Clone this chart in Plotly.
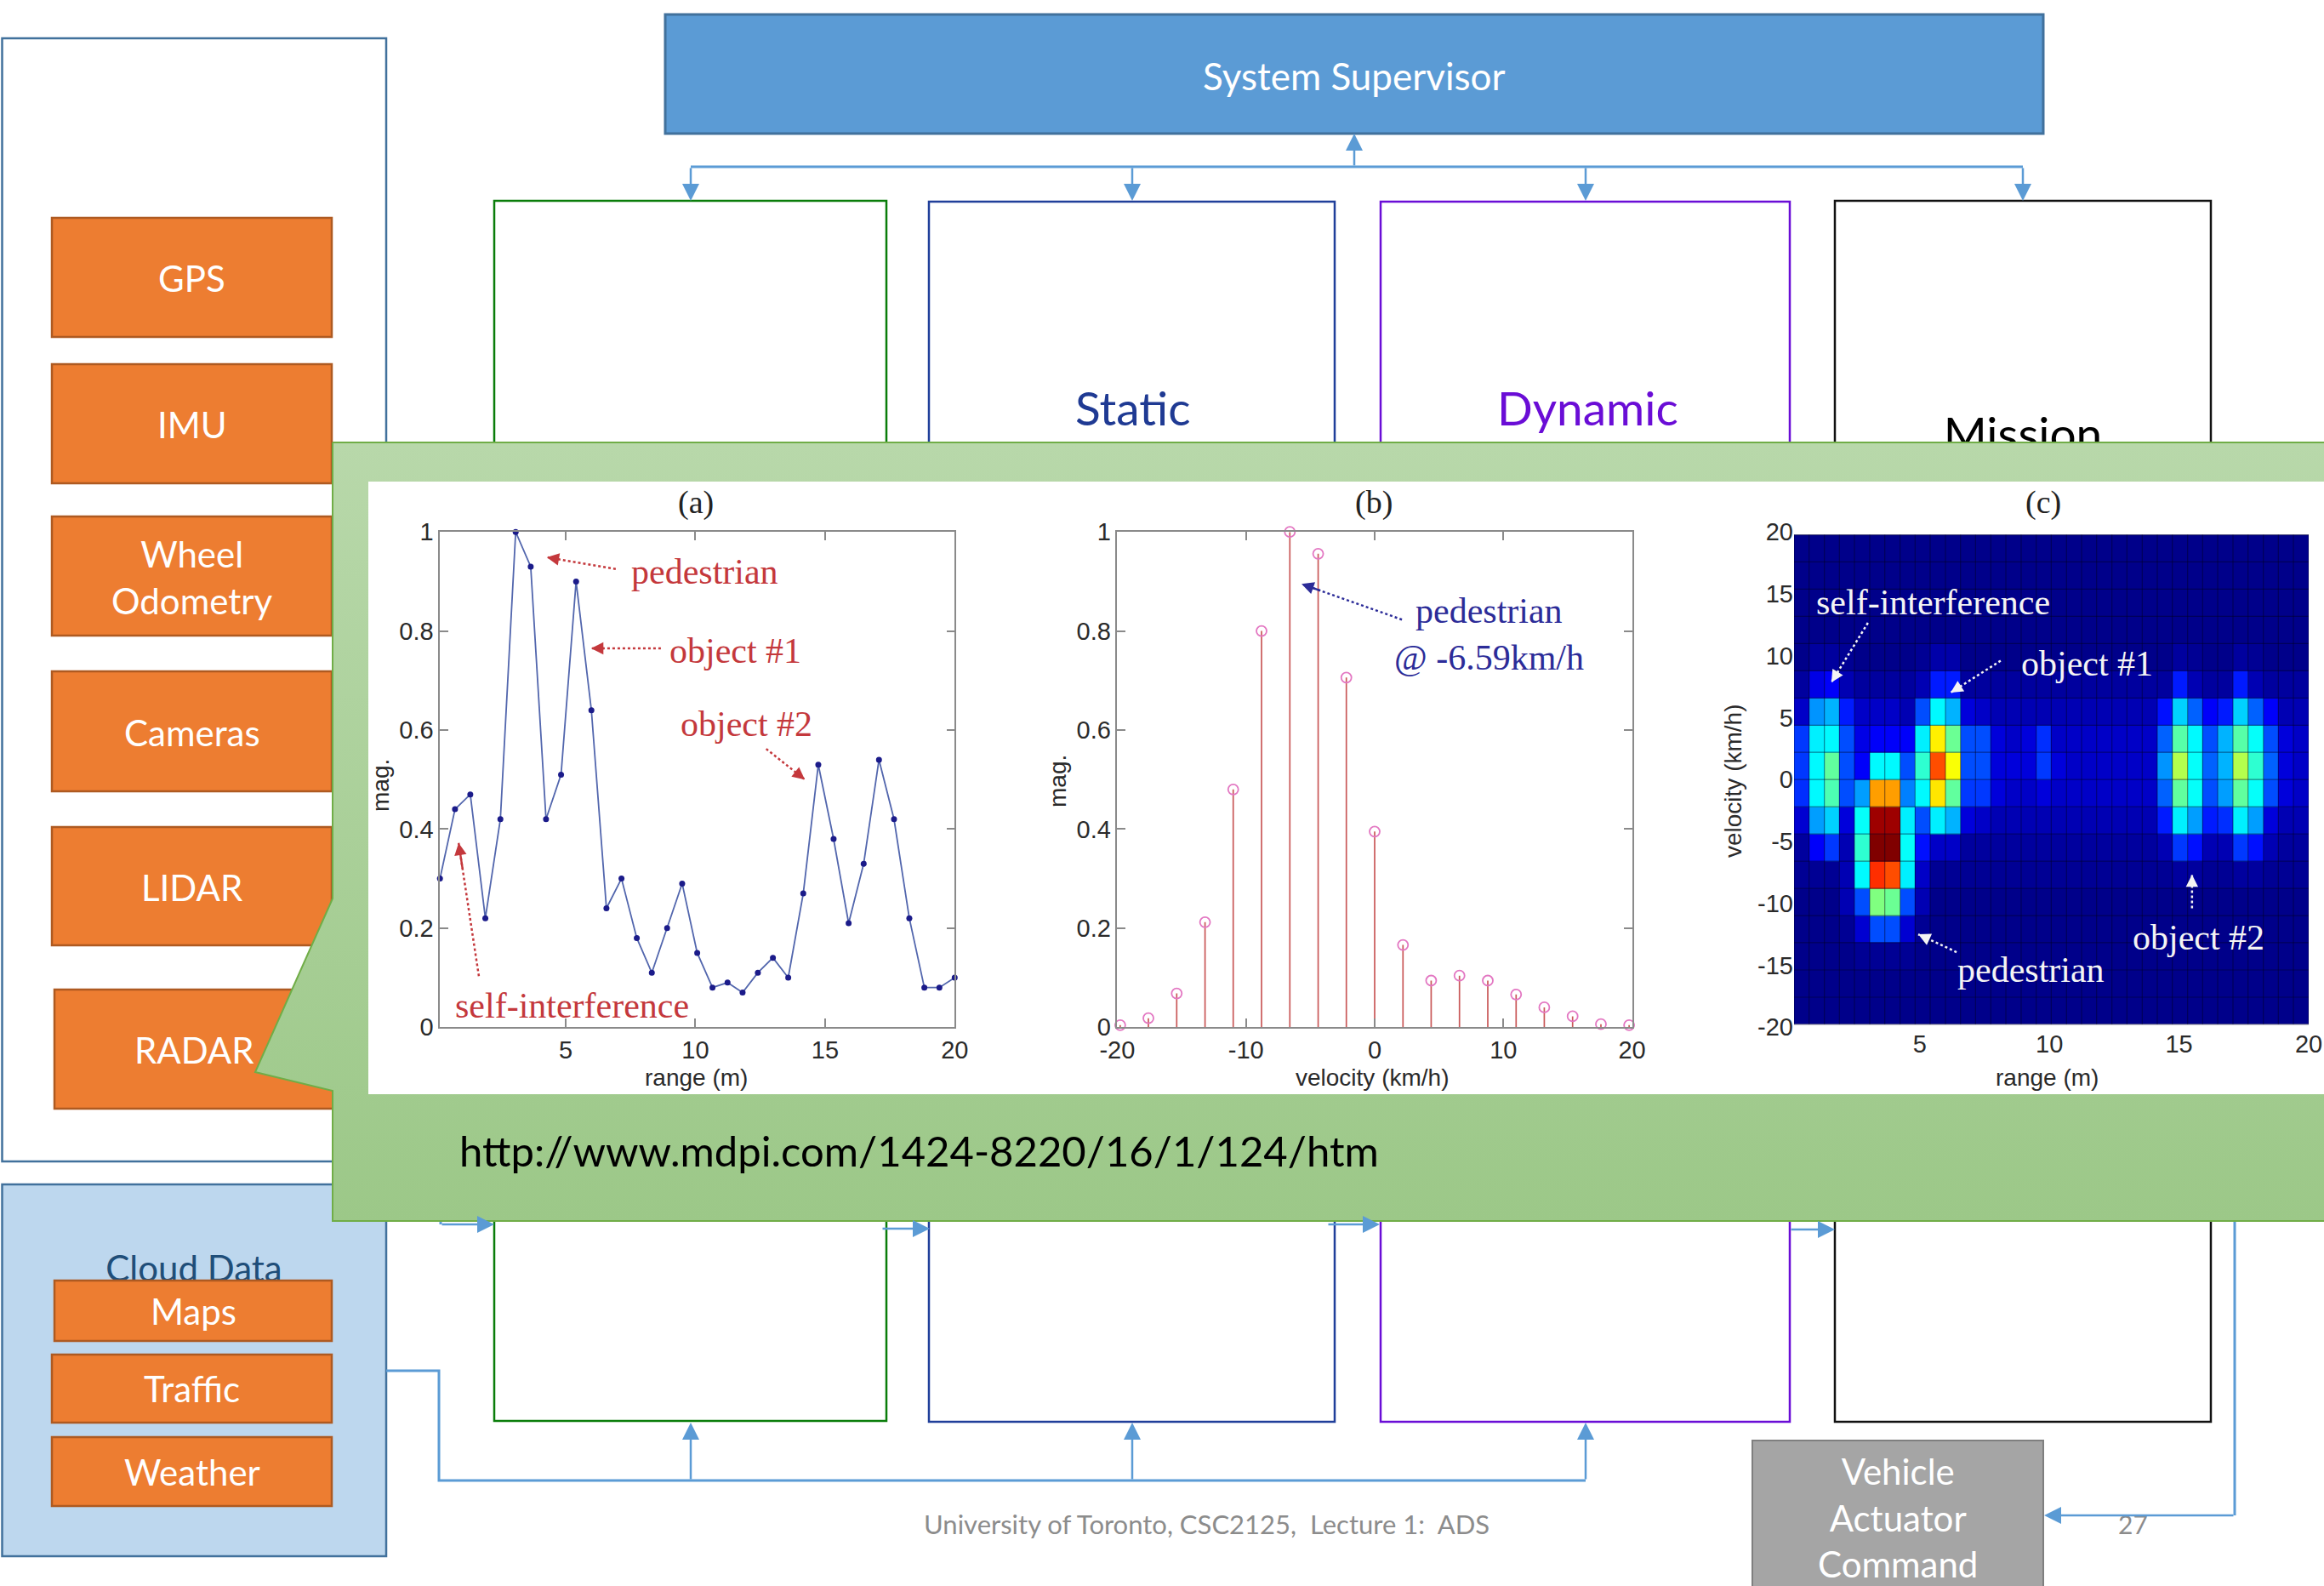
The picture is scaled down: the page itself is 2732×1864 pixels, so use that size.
import plotly.graph_objects as go

W, H = 2732, 1864

# ---------------- data ----------------
range_m = [0.15, 0.73, 1.32, 1.90, 2.48, 3.07, 3.65, 4.24, 4.82, 5.40, 5.99, 6.57,
           7.15, 7.74, 8.32, 8.91, 9.49, 10.07, 10.66, 11.24, 11.82, 12.41, 12.99,
           13.58, 14.16, 14.74, 15.33, 15.91, 16.49, 17.08, 17.66, 18.25, 18.83,
           19.41, 20.00]
range_mag = [0.30, 0.44, 0.47, 0.22, 0.42, 1.00, 0.93, 0.42, 0.51, 0.90, 0.64, 0.24,
             0.30, 0.18, 0.11, 0.20, 0.29, 0.15, 0.08, 0.09, 0.07, 0.11, 0.14, 0.10,
             0.27, 0.53, 0.38, 0.21, 0.33, 0.54, 0.42, 0.22, 0.08, 0.08, 0.10]

velocity_kmh = [-19.77, -17.58, -15.38, -13.18, -10.99, -8.79, -6.59, -4.39, -2.20,
                0.00, 2.20, 4.39, 6.59, 8.79, 10.99, 13.18, 15.38, 17.58, 19.77]
velocity_mag = [0.004, 0.018, 0.068, 0.212, 0.48, 0.80, 1.00, 0.956, 0.706, 0.395,
                0.166, 0.094, 0.104, 0.094, 0.066, 0.040, 0.022, 0.006, 0.004]

# range-doppler map (%), rows bottom (-20 km/h) -> top (+20 km/h), 34 range cells
rd_map = [
    [1,1,1,1,1,1,1,1,1,1, 1,1,1,1,1,1,1,1,1,1, 1,1,1,1,1,1,1,1,1,1, 1,1,1,1],
    [1,1,1,1,1,1,1,1,1,1, 1,1,1,1,1,1,1,1,1,1, 1,1,1,1,1,1,1,1,1,1, 1,1,1,1],
    [1,1,1,1,2,2,2,2,1,1, 1,1,1,1,1,1,1,1,1,1, 1,1,1,1,1,1,1,1,1,1, 1,1,1,1],
    [1,1,1,2,8,20,20,8,2,1, 1,1,1,1,1,1,1,1,1,1, 1,1,1,1,1,1,1,1,1,1, 1,1,1,1],
    [1,1,1,5,20,50,48,20,5,1, 1,1,1,1,1,1,1,1,1,1, 1,1,1,1,1,1,1,1,1,1, 1,1,1,1],
    [2,2,2,5,37,83,80,36,7,2, 2,2,2,2,2,2,2,2,2,2, 2,2,2,2,2,3,3,2,2,3, 3,2,2,2],
    [3,12,18,5,42,100,100,38,14,7, 7,3,3,3,3,3,3,3,3,3, 3,3,3,3,5,18,14,5,5,18, 14,5,3,3],
    [8,28,33,9,38,97,97,36,20,36, 30,9,7,5,5,5,5,5,5,5, 5,5,5,5,15,36,28,15,17,36, 28,9,5,5],
    [17,37,45,20,28,72,72,25,37,65, 47,18,18,9,7,7,9,7,7,7, 7,7,7,7,22,47,38,20,28,47, 38,20,9,7],
    [18,37,47,20,12,37,37,20,42,80, 62,20,20,9,9,9,18,9,7,7, 7,7,7,7,27,55,38,22,30,55, 42,22,9,7],
    [18,36,37,20,10,12,12,12,36,64, 48,20,20,9,7,9,17,7,7,7, 7,7,7,7,22,46,37,20,30,46, 38,20,9,7],
    [7,27,30,15,7,7,7,5,20,37, 30,9,7,5,5,5,5,5,5,5, 5,5,5,5,14,33,22,12,15,33, 22,12,5,5],
    [3,10,12,5,3,3,3,3,5,15, 15,3,3,3,3,3,3,3,3,3, 3,3,3,3,3,15,5,3,3,15, 5,3,3,3],
    [1,3,3,2,1,1,1,1,2,4, 4,1,1,1,1,1,1,1,1,1, 1,1,1,1,1,3,2,1,1,3, 2,1,1,1],
    [1,1,1,1,1,1,1,1,1,1, 1,1,1,1,1,1,1,1,1,1, 1,1,1,1,1,1,1,1,1,1, 1,1,1,1],
    [1,1,1,1,1,1,1,1,1,1, 1,1,1,1,1,1,1,1,1,1, 1,1,1,1,1,1,1,1,1,1, 1,1,1,1],
    [1,1,1,1,1,1,1,1,1,1, 1,1,1,1,1,1,1,1,1,1, 1,1,1,1,1,1,1,1,1,1, 1,1,1,1],
    [1,1,1,1,1,1,1,1,1,1, 1,1,1,1,1,1,1,1,1,1, 1,1,1,1,1,1,1,1,1,1, 1,1,1,1],
]

mag_ticks = [0, 0.2, 0.4, 0.6, 0.8, 1]
mag_ticktext = ["0", "0.2", "0.4", "0.6", "0.8", "1"]
range_ticks = [5, 10, 15, 20]
vel_ticks_b = [-20, -10, 0, 10, 20]
vel_ticktext_b = ["-20", "-10", "0", "10", "20"]
vel_ticks_c = [-20, -15, -10, -5, 0, 5, 10, 15, 20]
vel_ticktext_c = ["-20", "-15", "-10", "-5", "0", "5", "10", "15", "20"]

sensors = ["GPS", "IMU", "Wheel<br>Odometry", "Cameras", "LIDAR", "RADAR"]
cloud_items = ["Maps", "Traffic", "Weather"]

SLIDE_FONT = "Lato"
SANS = "Liberation Sans"
SERIF = "Liberation Serif"
BLUE_ARROW = "#5b9bd5"

fig = go.Figure()


# ---------------- helpers (base layer in pixel units) ----------------
def rect(x0, y0, x1, y1, fill, line, lw=2.5, layer="below"):
    fig.add_shape(type="rect", xref="x", yref="y", x0=x0, y0=y0, x1=x1, y1=y1,
                  fillcolor=fill, line=dict(color=line, width=lw), layer=layer)


def polyline(pts, color=BLUE_ARROW, w=3):
    path = "M " + " L ".join(f"{x},{y}" for x, y in pts)
    fig.add_shape(type="path", path=path, xref="x", yref="y",
                  line=dict(color=color, width=w), layer="below")


def arrow(tail, head, color=BLUE_ARROW, w=2.5):
    fig.add_annotation(x=head[0], y=head[1], ax=tail[0], ay=tail[1],
                       xref="x", yref="y", axref="x", ayref="y", text="",
                       showarrow=True, arrowhead=2, arrowsize=1.6,
                       arrowwidth=w, arrowcolor=color)


def label(x, y, text, size, color, family=SLIDE_FONT, **kw):
    fig.add_annotation(x=x, y=y, xref="x", yref="y", text=text, showarrow=False,
                       font=dict(family=family, size=size, color=color), **kw)


# ---------------- slide diagram ----------------
rect(2.5, 45, 454, 1365, "white", "#41719c")
sensor_boxes = [(61, 256, 390, 396), (61, 428, 390, 568), (61, 607, 390, 747),
                (61, 789, 390, 930), (61, 972, 390, 1111), (64, 1163, 392, 1303)]
for (x0, y0, x1, y1) in sensor_boxes:
    rect(x0, y0, x1, y1, "#ed7d31", "#ae5a21")

rect(2.5, 1392, 454, 1829, "#bdd7ee", "#41719c")
cloud_boxes = [(64, 1505, 390, 1576), (61, 1592, 390, 1672), (61, 1689, 390, 1770)]
for (x0, y0, x1, y1) in cloud_boxes:
    rect(x0, y0, x1, y1, "#ed7d31", "#ae5a21", layer="above")

rect(782, 17, 2402, 157, "#5b9bd5", "#41719c", lw=3)

rect(581, 236, 1042, 1670, "rgba(0,0,0,0)", "#0a7d0a", lw=2.5)
rect(1092, 237, 1569, 1671, "rgba(0,0,0,0)", "#203f9a", lw=2.5)
rect(1623, 237, 2104, 1671, "rgba(0,0,0,0)", "#6a0dd6", lw=2.5)
rect(2157, 236, 2599, 1671, "rgba(0,0,0,0)", "#111111", lw=2.5)

rect(2060, 1693, 2402, 1880, "#a5a5a5", "#7f7f7f", lw=2)

polyline([(812, 196), (2378, 196)])
polyline([(454, 1611), (516, 1611), (516, 1740), (1864, 1740)])
polyline([(518, 1435), (518, 1439)])
polyline([(2627, 1435), (2627, 1781)])

# ---------------- base-layer traces ----------------
fig.add_trace(go.Scatter(x=[2378], y=[516], mode="text", text=["Mission"],
                         textfont=dict(family=SLIDE_FONT, size=55, color="black"),
                         xaxis="x", yaxis="y", hoverinfo="skip", showlegend=False))
fig.add_trace(go.Scatter(x=[228], y=[1495], mode="text", text=["Cloud Data"],
                         textfont=dict(family=SLIDE_FONT, size=42, color="#1f4e79"),
                         xaxis="x", yaxis="y", hoverinfo="skip", showlegend=False))

gx = [391, 2745, 2745, 391, 391, 300, 391, 391]
gy = [520, 520, 1435, 1435, 1282, 1260, 1056, 520]
fig.add_trace(go.Scatter(x=gx, y=gy, mode="lines", fill="toself",
                         fillgradient=dict(type="vertical", start=520, stop=1435,
                                           colorscale=[[0, "#b8d8aa"], [1, "#9cc888"]]),
                         line=dict(color="#70ad47", width=2),
                         xaxis="x", yaxis="y", hoverinfo="skip", showlegend=False))
fig.add_trace(go.Scatter(x=[433, 2745, 2745, 433, 433], y=[566, 566, 1286, 1286, 566],
                         mode="lines", fill="toself", fillcolor="white",
                         line=dict(color="white", width=0),
                         xaxis="x", yaxis="y", hoverinfo="skip", showlegend=False))

# ---------------- (a) range profile ----------------
fig.add_trace(go.Scatter(x=range_m, y=range_mag, mode="lines+markers",
                         line=dict(color="#5266ad", width=1.8),
                         marker=dict(color="#1b1b8a", size=7),
                         xaxis="x2", yaxis="y2", cliponaxis=False,
                         hoverinfo="skip", showlegend=False))

# ---------------- (b) velocity stems ----------------
stem_x, stem_y = [], []
for v, m in zip(velocity_kmh, velocity_mag):
    stem_x += [v, v, None]
    stem_y += [0, m, None]
fig.add_trace(go.Scatter(x=stem_x, y=stem_y, mode="lines",
                         line=dict(color="#c95858", width=1.7),
                         xaxis="x3", yaxis="y3", hoverinfo="skip", showlegend=False))
fig.add_trace(go.Scatter(x=velocity_kmh, y=velocity_mag, mode="markers",
                         marker=dict(symbol="circle-open", size=12,
                                     line=dict(color="#bf4040", width=1.8)),
                         xaxis="x3", yaxis="y3", cliponaxis=False,
                         hoverinfo="skip", showlegend=False))

# ---------------- (c) range-doppler map ----------------
jet = [[0, "#000080"], [0.125, "#0000ff"], [0.375, "#00ffff"],
       [0.625, "#ffff00"], [0.875, "#ff0000"], [1, "#800000"]]
fig.add_trace(go.Heatmap(x=range_m, y=velocity_kmh, z=rd_map, zmin=0, zmax=100,
                         colorscale=jet, showscale=False, hoverinfo="skip",
                         xaxis="x4", yaxis="y4"))
gridx, gridy = [], []
for r in range_m:
    gridx += [r, r, None]
    gridy += [velocity_kmh[0], velocity_kmh[-1], None]
for v in velocity_kmh:
    gridx += [range_m[0], range_m[-1], None]
    gridy += [v, v, None]
fig.add_trace(go.Scatter(x=gridx, y=gridy, mode="lines",
                         line=dict(color="rgba(0,0,30,0.45)", width=1.2),
                         xaxis="x4", yaxis="y4", hoverinfo="skip", showlegend=False))

# ---------------- axes ----------------
def dom_x(a, b):
    return [a / W, b / W]


PY = [1 - 1207.2 / H, 1 - 625.2 / H]
tick_font = dict(family=SANS, size=29, color="#2a2a2a")
frame = dict(showline=True, linecolor="#8a8a8a", linewidth=1.5, mirror="ticks",
             ticks="inside", ticklen=10, tickwidth=1.5, tickcolor="#8a8a8a",
             showgrid=False, zeroline=False, tickfont=tick_font, fixedrange=True,
             automargin=False)
noframe = dict(showline=False, ticks="", showgrid=False, zeroline=False,
               tickfont=tick_font, fixedrange=True, automargin=False)

fig.update_layout(
    template="none",
    width=W, height=H, margin=dict(l=0, r=0, t=0, b=0, pad=0, autoexpand=False),
    paper_bgcolor="white", plot_bgcolor="rgba(0,0,0,0)",
    showlegend=False, hovermode=False,
    xaxis=dict(domain=[0, 1], range=[0, W], visible=False, fixedrange=True, automargin=False),
    yaxis=dict(domain=[0, 1], range=[H, 0], visible=False, fixedrange=True, automargin=False),
    xaxis2=dict(domain=dom_x(517.2, 1122.3), anchor="y2", range=[range_m[0], range_m[-1]],
                tickvals=range_ticks, **frame),
    yaxis2=dict(domain=PY, anchor="x2", range=[0, 1], tickvals=mag_ticks,
                ticktext=mag_ticktext, **frame),
    xaxis3=dict(domain=dom_x(1313.4, 1918.6), anchor="y3", range=[-20, 20],
                tickvals=vel_ticks_b, ticktext=vel_ticktext_b, **frame),
    yaxis3=dict(domain=PY, anchor="x3", range=[0, 1], tickvals=mag_ticks,
                ticktext=mag_ticktext, **frame),
    xaxis4=dict(domain=dom_x(2109, 2714), anchor="y4", range=[range_m[0], range_m[-1]],
                tickvals=range_ticks, **noframe),
    yaxis4=dict(domain=PY, anchor="x4", range=[-20, 20], tickvals=vel_ticks_c,
                ticktext=vel_ticktext_c, **noframe),
)

# ---------------- slide texts ----------------
label(1592, 89, "System Supervisor", 44, "white")
for name, (x0, y0, x1, y1) in zip(sensors, sensor_boxes):
    label((x0 + x1) / 2, (y0 + y1) / 2 + 1, name, 42, "white")
for name, (x0, y0, x1, y1) in zip(cloud_items, cloud_boxes):
    label((x0 + x1) / 2, (y0 + y1) / 2, name, 42, "white")
label(1331, 479, "Static", 55, "#1f3a93")
label(1866, 479, "Dynamic", 55, "#6a0dd6")
label(2231, 1783, "Vehicle<br>Actuator<br>Command", 42, "white")
label(1418, 1791, "University of Toronto, CSC2125,\u00a0 Lecture 1:\u00a0 ADS", 31, "#8c8c8c")
label(2507, 1791, "27", 30, "#8c8c8c")
label(538, 1352, "http://www.mdpi.com/1424-8220/16/1/124/htm", 49, "black", xanchor="left")

arrow((1592, 196), (1592, 157))
for xx in [812, 1331, 1864, 2378]:
    arrow((xx, 196), (xx, 236))
for xx in [812, 1331, 1864]:
    arrow((xx, 1740), (xx, 1672))
arrow((518, 1439), (581, 1439))
arrow((1036, 1444), (1093, 1444))
arrow((1560, 1439), (1622, 1439))
arrow((2104, 1445), (2157, 1445))
arrow((2627, 1781), (2403, 1781))

# ---------------- figure titles / axis titles ----------------
for (x, y, t) in [(818, 590, "(a)"), (1615, 590, "(b)"), (2402, 590, "(c)")]:
    label(x, y, t, 38, "#222222", family=SERIF)
for (x, y, t) in [(818, 1266, "range (m)"), (1613, 1266, "velocity (km/h)"),
                  (2406, 1266, "range (m)")]:
    label(x, y, t, 28, "#2a2a2a", family=SANS)
for (x, y, t) in [(447, 923, "mag."), (1243, 918, "mag."), (2037, 918, "velocity (km/h)")]:
    label(x, y, t, 28, "#2a2a2a", family=SANS, textangle=-90)


# ---------------- in-plot annotations ----------------
def note(xr, yr, x, y, text, color):
    fig.add_annotation(x=x, y=y, xref=xr, yref=yr, text=text, showarrow=False,
                       font=dict(family=SERIF, size=42, color=color))


def dotted_arrow(xr, yr, tail, head, color):
    fig.add_shape(type="line", xref=xr, yref=yr, x0=tail[0], y0=tail[1],
                  x1=head[0], y1=head[1], layer="above",
                  line=dict(color=color, width=2.5, dash="dot"))
    ax = head[0] + 0.2 * (tail[0] - head[0])
    ay = head[1] + 0.2 * (tail[1] - head[1])
    fig.add_annotation(x=head[0], y=head[1], ax=ax, ay=ay, xref=xr, yref=yr,
                       axref=xr, ayref=yr, text="", showarrow=True, arrowhead=2,
                       arrowsize=1.2, arrowwidth=2.4, arrowcolor=color)


RED = "#c4383c"
note("x2", "y2", 10.35, 0.92, "pedestrian", RED)
note("x2", "y2", 11.55, 0.76, "object #1", RED)
note("x2", "y2", 11.98, 0.612, "object #2", RED)
note("x2", "y2", 5.26, 0.044, "self-interference", RED)
dotted_arrow("x2", "y2", (6.93, 0.925), (4.27, 0.949), RED)
dotted_arrow("x2", "y2", (8.67, 0.765), (5.98, 0.765), RED)
dotted_arrow("x2", "y2", (12.73, 0.562), (14.22, 0.50), RED)
dotted_arrow("x2", "y2", (1.65, 0.103), (0.87, 0.372), RED)

BLU = "#2c2c98"
note("x3", "y3", 8.86, 0.84, "pedestrian", BLU)
note("x3", "y3", 8.92, 0.746, "@ -6.59km/h", BLU)
dotted_arrow("x3", "y3", (2.12, 0.823), (-5.68, 0.895), BLU)

WH = "#f4f4f4"
note("x4", "y4", 5.52, 14.31, "self-interference", WH)
note("x4", "y4", 11.46, 9.36, "object #1", WH)
note("x4", "y4", 15.75, -12.77, "object #2", WH)
note("x4", "y4", 9.3, -15.38, "pedestrian", WH)
dotted_arrow("x4", "y4", (3.0, 12.66), (1.59, 7.85), WH)
dotted_arrow("x4", "y4", (8.12, 9.6), (6.19, 7.02), WH)
dotted_arrow("x4", "y4", (15.5, -10.4), (15.5, -7.68), WH)
dotted_arrow("x4", "y4", (6.42, -13.94), (4.94, -12.5), WH)

fig.write_html(
    "out.html",
    config={"displayModeBar": False},
    post_script="document.body.style.margin='0';document.body.style.overflow='hidden';",
)
